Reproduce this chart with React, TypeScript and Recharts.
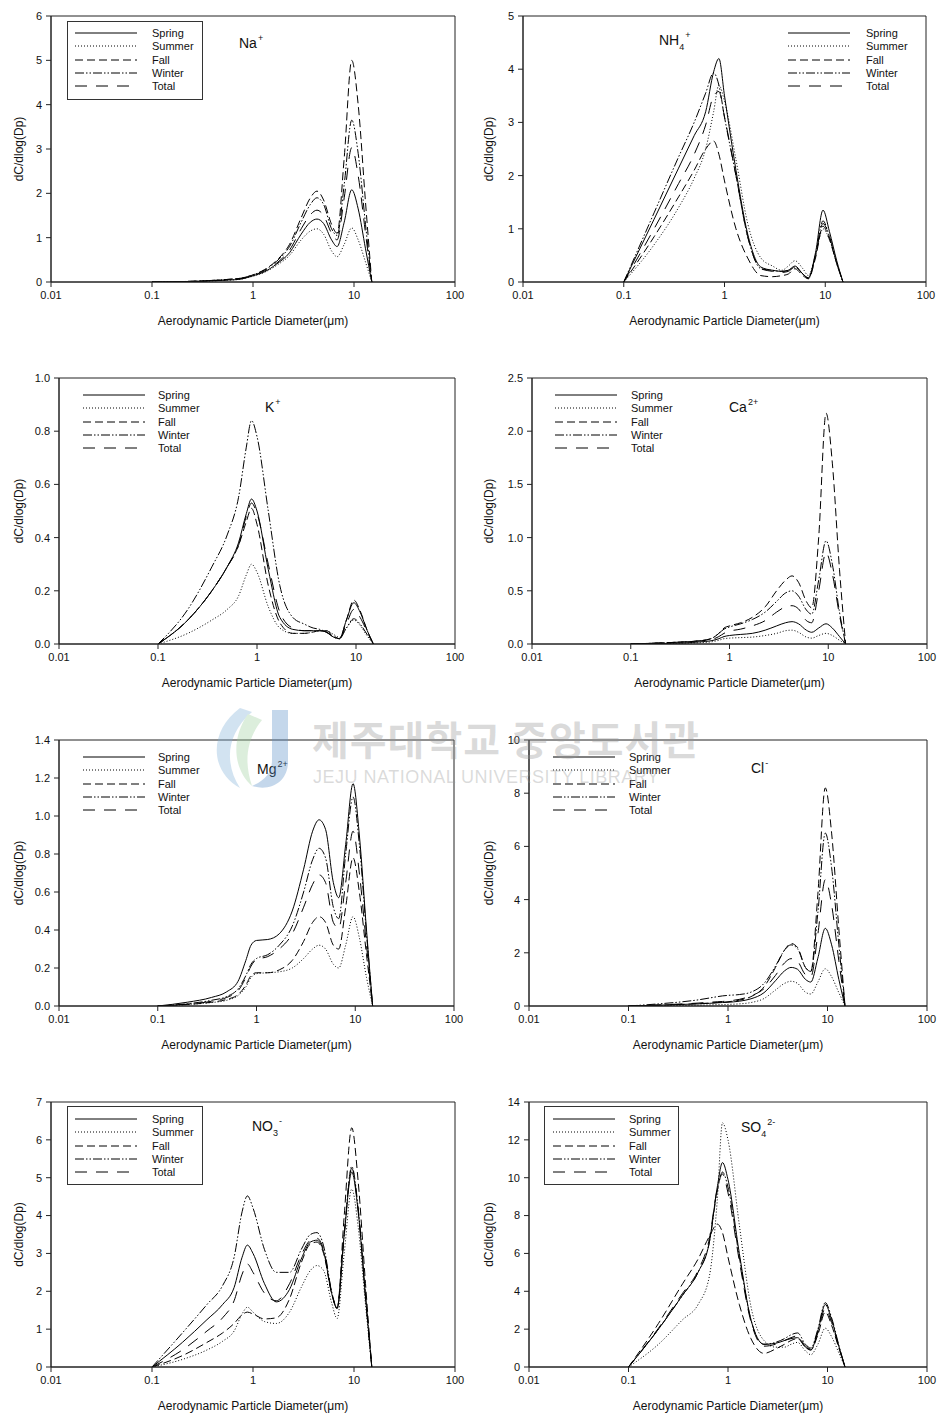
import React from "react";
import { LineChart, Line, XAxis, YAxis, ReferenceArea } from "recharts";

// particle size grid (µm) shared by every panel
const SIZES = [0.1, 0.2, 0.35, 0.5, 0.65, 0.78, 0.88, 1.0, 1.3, 1.7, 2.3, 3.0, 3.7, 4.3, 5.0, 6.0, 6.8, 8.0, 9.5, 11, 13, 15];
const X_TICKS = [0.01, 0.1, 1, 10, 100];
const SEASONS = ["Spring", "Summer", "Fall", "Winter", "Total"];

// Na+
const naSpring = [0, 0.01, 0.02, 0.04, 0.05, 0.07, 0.1, 0.14, 0.23, 0.4, 0.66, 1.08, 1.35, 1.42, 1.32, 0.95, 0.8, 1.35, 2.08, 1.65, 0.75, 0];
const naSummer = [0, 0.01, 0.02, 0.04, 0.05, 0.07, 0.1, 0.13, 0.22, 0.37, 0.6, 0.95, 1.15, 1.2, 1.08, 0.7, 0.57, 0.85, 1.22, 0.95, 0.45, 0];
const naFall = [0, 0.01, 0.03, 0.05, 0.07, 0.09, 0.12, 0.16, 0.28, 0.48, 0.85, 1.45, 1.9, 2.05, 1.85, 1.3, 1.1, 2.8, 5.0, 4.0, 1.8, 0];
const naWinter = [0, 0.01, 0.03, 0.05, 0.07, 0.09, 0.12, 0.16, 0.27, 0.46, 0.8, 1.35, 1.75, 1.9, 1.75, 1.2, 1.05, 2.2, 3.65, 2.9, 1.3, 0];
const naTotal = [0, 0.01, 0.02, 0.04, 0.06, 0.08, 0.11, 0.15, 0.25, 0.42, 0.72, 1.2, 1.52, 1.62, 1.5, 1.1, 0.95, 1.9, 3.03, 2.4, 1.1, 0];

// NH4+
const nhSpring = [0, 1.18, 2.14, 2.75, 3.2, 3.95, 4.2, 3.5, 2.1, 0.9, 0.28, 0.22, 0.2, 0.22, 0.3, 0.15, 0.08, 0.55, 1.35, 0.95, 0.4, 0];
const nhSummer = [0, 0.7, 1.4, 1.95, 2.5, 3.2, 3.7, 3.4, 2.3, 1.1, 0.45, 0.3, 0.22, 0.3, 0.4, 0.25, 0.12, 0.5, 1.0, 0.8, 0.35, 0];
const nhFall = [0, 0.85, 1.6, 2.1, 2.5, 2.65, 2.4, 1.9, 1.0, 0.45, 0.12, 0.1, 0.12, 0.15, 0.25, 0.12, 0.06, 0.45, 1.05, 0.8, 0.35, 0];
const nhWinter = [0, 1.3, 2.35, 3.0, 3.55, 3.93, 3.7, 3.1, 2.0, 0.85, 0.25, 0.22, 0.2, 0.22, 0.28, 0.15, 0.07, 0.5, 1.15, 0.85, 0.35, 0];
const nhTotal = [0, 1.0, 1.85, 2.4, 2.95, 3.5, 3.58, 3.1, 2.0, 0.85, 0.25, 0.2, 0.18, 0.2, 0.28, 0.15, 0.07, 0.5, 1.1, 0.85, 0.35, 0];

// K+
const kSpring = [0, 0.09, 0.2, 0.29, 0.38, 0.49, 0.545, 0.5, 0.28, 0.1, 0.055, 0.05, 0.05, 0.05, 0.045, 0.025, 0.02, 0.09, 0.155, 0.12, 0.05, 0];
const kSummer = [0, 0.04, 0.09, 0.13, 0.18, 0.26, 0.3, 0.27, 0.14, 0.06, 0.04, 0.04, 0.045, 0.05, 0.05, 0.035, 0.025, 0.06, 0.09, 0.07, 0.03, 0];
const kFall = [0, 0.09, 0.2, 0.29, 0.37, 0.46, 0.51, 0.45, 0.22, 0.08, 0.04, 0.04, 0.045, 0.05, 0.05, 0.03, 0.02, 0.09, 0.165, 0.125, 0.05, 0];
const kWinter = [0, 0.13, 0.29, 0.41, 0.55, 0.74, 0.84, 0.78, 0.5, 0.22, 0.1, 0.075, 0.06, 0.055, 0.045, 0.025, 0.02, 0.06, 0.095, 0.075, 0.035, 0];
const kTotal = [0, 0.09, 0.2, 0.29, 0.37, 0.48, 0.53, 0.49, 0.3, 0.12, 0.06, 0.05, 0.05, 0.05, 0.045, 0.028, 0.02, 0.075, 0.13, 0.1, 0.045, 0];

// Ca2+
const caSpring = [0, 0.005, 0.01, 0.02, 0.03, 0.05, 0.07, 0.08, 0.09, 0.1, 0.13, 0.17, 0.2, 0.21, 0.19, 0.13, 0.11, 0.15, 0.19, 0.15, 0.07, 0];
const caSummer = [0, 0.003, 0.008, 0.012, 0.02, 0.035, 0.05, 0.055, 0.06, 0.065, 0.08, 0.1, 0.125, 0.13, 0.11, 0.065, 0.055, 0.08, 0.1, 0.08, 0.035, 0];
const caFall = [0, 0.01, 0.02, 0.03, 0.05, 0.1, 0.15, 0.17, 0.2, 0.25, 0.35, 0.5, 0.6, 0.64, 0.58, 0.4, 0.34, 1.0, 2.17, 1.7, 0.7, 0];
const caWinter = [0, 0.01, 0.02, 0.03, 0.05, 0.1, 0.14, 0.16, 0.19, 0.23, 0.3, 0.4, 0.48, 0.5, 0.45, 0.32, 0.28, 0.6, 0.97, 0.75, 0.3, 0];
const caTotal = [0, 0.01, 0.02, 0.03, 0.04, 0.07, 0.1, 0.12, 0.14, 0.17, 0.22, 0.3, 0.35, 0.36, 0.33, 0.22, 0.2, 0.5, 0.86, 0.66, 0.27, 0];

// Mg2+
const mgSpring = [0, 0.02, 0.045, 0.075, 0.13, 0.24, 0.32, 0.345, 0.35, 0.38, 0.5, 0.72, 0.92, 0.98, 0.93, 0.65, 0.57, 0.85, 1.17, 0.9, 0.4, 0];
const mgSummer = [0, 0.008, 0.018, 0.03, 0.055, 0.1, 0.15, 0.17, 0.175, 0.18, 0.2, 0.25, 0.3, 0.32, 0.3, 0.22, 0.2, 0.32, 0.47, 0.36, 0.15, 0];
const mgFall = [0, 0.008, 0.02, 0.035, 0.06, 0.11, 0.16, 0.175, 0.175, 0.19, 0.24, 0.34, 0.44, 0.47, 0.44, 0.32, 0.3, 0.52, 0.78, 0.6, 0.27, 0];
const mgWinter = [0, 0.012, 0.03, 0.05, 0.09, 0.16, 0.22, 0.25, 0.27, 0.32, 0.42, 0.6, 0.77, 0.83, 0.78, 0.52, 0.46, 0.8, 1.1, 0.85, 0.38, 0];
const mgTotal = [0, 0.01, 0.025, 0.045, 0.08, 0.15, 0.21, 0.245, 0.26, 0.3, 0.38, 0.52, 0.64, 0.69, 0.65, 0.44, 0.41, 0.65, 0.92, 0.7, 0.32, 0];

// Cl-
const clSpring = [0, 0.03, 0.06, 0.08, 0.1, 0.12, 0.13, 0.14, 0.18, 0.27, 0.5, 0.95, 1.32, 1.45, 1.38, 1.0, 0.9, 1.8, 2.92, 2.3, 1.0, 0];
const clSummer = [0, 0.01, 0.02, 0.03, 0.04, 0.05, 0.05, 0.06, 0.08, 0.13, 0.28, 0.6, 0.85, 0.93, 0.85, 0.52, 0.45, 0.9, 1.4, 1.1, 0.5, 0];
const clFall = [0, 0.03, 0.06, 0.09, 0.11, 0.13, 0.14, 0.16, 0.22, 0.35, 0.72, 1.45, 2.1, 2.35, 2.2, 1.45, 1.3, 4.2, 8.2, 6.5, 2.9, 0];
const clWinter = [0, 0.08, 0.16, 0.23, 0.3, 0.35, 0.38, 0.4, 0.43, 0.52, 0.85, 1.5, 2.1, 2.3, 2.15, 1.45, 1.3, 3.5, 6.5, 5.2, 2.3, 0];
const clTotal = [0, 0.04, 0.08, 0.11, 0.14, 0.16, 0.17, 0.19, 0.25, 0.38, 0.65, 1.15, 1.62, 1.78, 1.68, 1.18, 1.1, 2.7, 4.75, 3.8, 1.7, 0];

// NO3-
const noSpring = [0, 0.65, 1.25, 1.65, 2.1, 2.9, 3.22, 3.0, 2.2, 1.72, 2.05, 2.85, 3.3, 3.35, 3.05, 1.95, 1.55, 3.5, 5.15, 4.1, 1.85, 0];
const noSummer = [0, 0.2, 0.45, 0.68, 0.95, 1.4, 1.58, 1.45, 1.2, 1.15, 1.45, 2.1, 2.55, 2.68, 2.55, 1.7, 1.28, 3.0, 4.7, 3.7, 1.65, 0];
const noFall = [0, 0.3, 0.65, 0.9, 1.15, 1.38, 1.45, 1.4, 1.27, 1.3, 1.8, 2.75, 3.25, 3.3, 3.0, 1.95, 1.55, 4.0, 6.32, 4.9, 2.2, 0];
const noWinter = [0, 0.9, 1.65, 2.15, 2.9, 4.1, 4.52, 4.2, 3.1, 2.5, 2.5, 3.1, 3.5, 3.55, 3.2, 2.0, 1.55, 3.5, 5.3, 4.2, 1.9, 0];
const noTotal = [0, 0.45, 0.95, 1.3, 1.75, 2.45, 2.72, 2.5, 1.95, 1.75, 2.2, 2.95, 3.35, 3.4, 3.1, 2.0, 1.55, 3.5, 5.25, 4.15, 1.85, 0];

// SO4 2-
const soSpring = [0, 2.0, 3.8, 5.0, 6.6, 9.5, 10.8, 9.9, 6.0, 2.5, 1.2, 1.25, 1.4, 1.5, 1.55, 1.05, 0.9, 1.9, 3.3, 2.5, 1.1, 0];
const soSummer = [0, 1.2, 2.5, 3.3, 4.8, 8.8, 12.9, 12.0, 7.5, 3.2, 1.4, 1.05, 1.05, 1.2, 1.3, 0.85, 0.65, 1.2, 2.05, 1.6, 0.75, 0];
const soFall = [0, 2.3, 4.4, 5.7, 6.9, 7.55, 7.1, 5.8, 3.3, 1.5, 0.72, 0.95, 1.2, 1.4, 1.5, 1.05, 0.9, 1.7, 2.9, 2.2, 1.0, 0];
const soWinter = [0, 2.0, 3.8, 5.0, 6.6, 9.3, 10.3, 9.5, 5.8, 2.5, 1.2, 1.3, 1.5, 1.7, 1.8, 1.2, 1.0, 2.0, 3.4, 2.6, 1.15, 0];
const soTotal = [0, 2.05, 3.9, 5.1, 6.8, 9.4, 10.2, 9.2, 5.6, 2.4, 1.1, 1.2, 1.4, 1.55, 1.65, 1.1, 0.95, 1.8, 3.1, 2.35, 1.05, 0];

const FONT = '"Liberation Sans", Arial, Helvetica, sans-serif';
const DASH = ["", "1 2", "8 4", "9 2 1.5 2 1.5 2", "12 9"];

const PANELS = [
  { ion: ["Na", "", "+"], ionAt: [239, 34], series: [naSpring, naSummer, naFall, naWinter, naTotal], yMax: 6, yTicks: [0, 1, 2, 3, 4, 5, 6], dec: 0, col: 0, plot: [51, 16, 455, 282], legend: { box: [67, 21, 136, 79], lineX: 75, textX: 152, cy: 33 } },
  { ion: ["NH", "4", "+"], ionAt: [659, 31], series: [nhSpring, nhSummer, nhFall, nhWinter, nhTotal], yMax: 5, yTicks: [0, 1, 2, 3, 4, 5], dec: 0, col: 1, plot: [523, 16, 926, 282], legend: { lineX: 788, textX: 866, cy: 33 } },
  { ion: ["K", "", "+"], ionAt: [265, 398], series: [kSpring, kSummer, kFall, kWinter, kTotal], yMax: 1, yTicks: [0, 0.2, 0.4, 0.6, 0.8, 1.0], dec: 1, col: 0, plot: [59, 378, 455, 644], legend: { lineX: 83, textX: 158, cy: 395 } },
  { ion: ["Ca", "", "2+"], ionAt: [729, 398], series: [caSpring, caSummer, caFall, caWinter, caTotal], yMax: 2.5, yTicks: [0, 0.5, 1.0, 1.5, 2.0, 2.5], dec: 1, col: 1, plot: [532, 378, 927, 644], legend: { lineX: 555, textX: 631, cy: 395 } },
  { ion: ["Mg", "", "2+"], ionAt: [257, 760], series: [mgSpring, mgSummer, mgFall, mgWinter, mgTotal], yMax: 1.4, yTicks: [0, 0.2, 0.4, 0.6, 0.8, 1.0, 1.2, 1.4], dec: 1, col: 0, plot: [59, 740, 454, 1006], legend: { lineX: 83, textX: 158, cy: 757 } },
  { ion: ["Cl", "", "-"], ionAt: [751, 759], series: [clSpring, clSummer, clFall, clWinter, clTotal], yMax: 10, yTicks: [0, 2, 4, 6, 8, 10], dec: 0, col: 1, plot: [529, 740, 927, 1006], legend: { lineX: 553, textX: 629, cy: 757 } },
  { ion: ["NO", "3", "-"], ionAt: [252, 1117], series: [noSpring, noSummer, noFall, noWinter, noTotal], yMax: 7, yTicks: [0, 1, 2, 3, 4, 5, 6, 7], dec: 0, col: 0, plot: [51, 1102, 455, 1367], legend: { box: [67, 1106, 136, 79], lineX: 75, textX: 152, cy: 1119 } },
  { ion: ["SO", "4", "2-"], ionAt: [741, 1118], series: [soSpring, soSummer, soFall, soWinter, soTotal], yMax: 14, yTicks: [0, 2, 4, 6, 8, 10, 12, 14], dec: 0, col: 1, plot: [529, 1102, 927, 1367], legend: { box: [544, 1106, 135, 79], lineX: 553, textX: 629, cy: 1119 } },
];

function SeasonLegend({ lg }: any) {
  return (
    <>
      {lg.box && (
        <div style={{ position: "absolute", left: lg.box[0], top: lg.box[1], width: lg.box[2], height: lg.box[3], border: "1px solid #333", boxSizing: "border-box" }} />
      )}
      {SEASONS.map((s, k) => {
        const cy = lg.cy + k * 13.3;
        return (
          <React.Fragment key={s}>
            <svg style={{ position: "absolute", left: lg.lineX, top: cy - 2 }} width={62} height={4}>
              <line x1={0} y1={2} x2={62} y2={2} stroke="#000" strokeWidth={1} strokeDasharray={DASH[k] || undefined} />
            </svg>
            <div style={{ position: "absolute", left: lg.textX, top: cy - 7, fontSize: 11, lineHeight: "14px", fontFamily: FONT, color: "#111" }}>{s}</div>
          </React.Fragment>
        );
      })}
    </>
  );
}

function IonLabel({ parts, at }: any) {
  const [base, sub, sup] = parts;
  return (
    <div style={{ position: "absolute", left: at[0], top: at[1], fontSize: 14, lineHeight: "18px", fontFamily: FONT, color: "#111", whiteSpace: "nowrap" }}>
      {base}
      {sub && <span style={{ fontSize: 9, position: "relative", top: 5, lineHeight: 0 }}>{sub}</span>}
      {sup && <span style={{ fontSize: 9, position: "relative", top: -7, lineHeight: 0, marginLeft: 1 }}>{sup}</span>}
    </div>
  );
}

function Panel({ p }: any) {
  const data = SIZES.map((x, i) => {
    const row: any = { x };
    SEASONS.forEach((s, k) => (row[s] = p.series[k][i]));
    return row;
  });
  const colX = p.col === 0 ? 0 : 470;
  const [pl, pt, pr, pb] = p.plot;
  const width = pr - colX + 10;
  const height = pb - pt + 60;
  return (
    <div style={{ position: "absolute", left: colX, top: pt - 10 }}>
      <LineChart width={width} height={height} data={data} margin={{ top: 10, right: 10, left: 0, bottom: 0 }}>
        <XAxis
          dataKey="x"
          type="number"
          scale="log"
          domain={[0.01, 100]}
          ticks={X_TICKS}
          allowDataOverflow
          height={50}
          tickSize={5}
          tickMargin={4}
          stroke="#222"
          tick={{ fontSize: 11, fill: "#111", fontFamily: FONT }}
          tickFormatter={(v: number) => String(v)}
          label={(lp: any) => (
            <text x={pl - colX + (pr - pl) / 2} y={pb - pt + 10 + 43} textAnchor="middle" fontSize={12} fontFamily={FONT} fill="#111">
              Aerodynamic Particle Diameter(μm)
            </text>
          )}
        />
        <YAxis
          type="number"
          domain={[0, p.yMax]}
          ticks={p.yTicks}
          allowDataOverflow
          width={pl - colX}
          tickSize={5}
          tickMargin={4}
          stroke="#222"
          tick={{ fontSize: 11, fill: "#111", fontFamily: FONT }}
          tickFormatter={(v: number) => v.toFixed(p.dec)}
          label={(lp: any) => {
            const cy = 10 + (pb - pt) / 2;
            return (
              <text x={19} y={cy} transform={`rotate(-90 19 ${cy})`} textAnchor="middle" dominantBaseline="central" fontSize={12} fontFamily={FONT} fill="#111">
                dC/dlog(Dp)
              </text>
            );
          }}
        />
        <ReferenceArea x1={0.01} x2={100} y1={0} y2={p.yMax} fill="none" stroke="#222" strokeWidth={1} ifOverflow="visible" />
        {SEASONS.map((s, k) => (
          <Line
            key={s}
            dataKey={s}
            type="monotone"
            stroke="#000"
            strokeWidth={1}
            strokeDasharray={DASH[k] || undefined}
            dot={false}
            activeDot={false}
            isAnimationActive={false}
          />
        ))}
      </LineChart>
    </div>
  );
}

export default function App() {
  return (
    <div style={{ position: "absolute", left: 0, top: 0, width: 938, height: 1415, background: "#fff", overflow: "hidden" }}>
      {PANELS.map((p, i) => (
        <React.Fragment key={i}>
          <Panel p={p} />
          <SeasonLegend lg={p.legend} />
          <IonLabel parts={p.ion} at={p.ionAt} />
        </React.Fragment>
      ))}
      {/* faint library watermark */}
      <svg style={{ position: "absolute", left: 200, top: 700, opacity: 0.35 }} width={100} height={95}>
        <path d="M40 8 C10 30 8 70 40 88 C25 65 25 35 52 12 Z" fill="#7fb0d8" />
        <path d="M48 14 C30 40 34 70 52 86 C44 62 46 40 62 20 Z" fill="#9ccf9c" />
        <path d="M72 10 L88 10 L88 62 C88 82 70 92 52 86 C66 80 72 72 72 60 Z" fill="#5a8fc8" />
      </svg>
      <div style={{ position: "absolute", left: 312, top: 714, fontSize: 40, lineHeight: "48px", fontFamily: '"Noto Sans CJK KR", sans-serif', fontWeight: 700, color: "rgba(150,150,150,0.35)", whiteSpace: "nowrap", letterSpacing: 1 }}>
        제주대학교 중앙도서관
      </div>
      <div style={{ position: "absolute", left: 313, top: 766, fontSize: 18, lineHeight: "22px", fontFamily: FONT, color: "rgba(150,150,150,0.35)", whiteSpace: "nowrap", letterSpacing: 0.5 }}>
        JEJU NATIONAL UNIVERSITY LIBRARY
      </div>
    </div>
  );
}
